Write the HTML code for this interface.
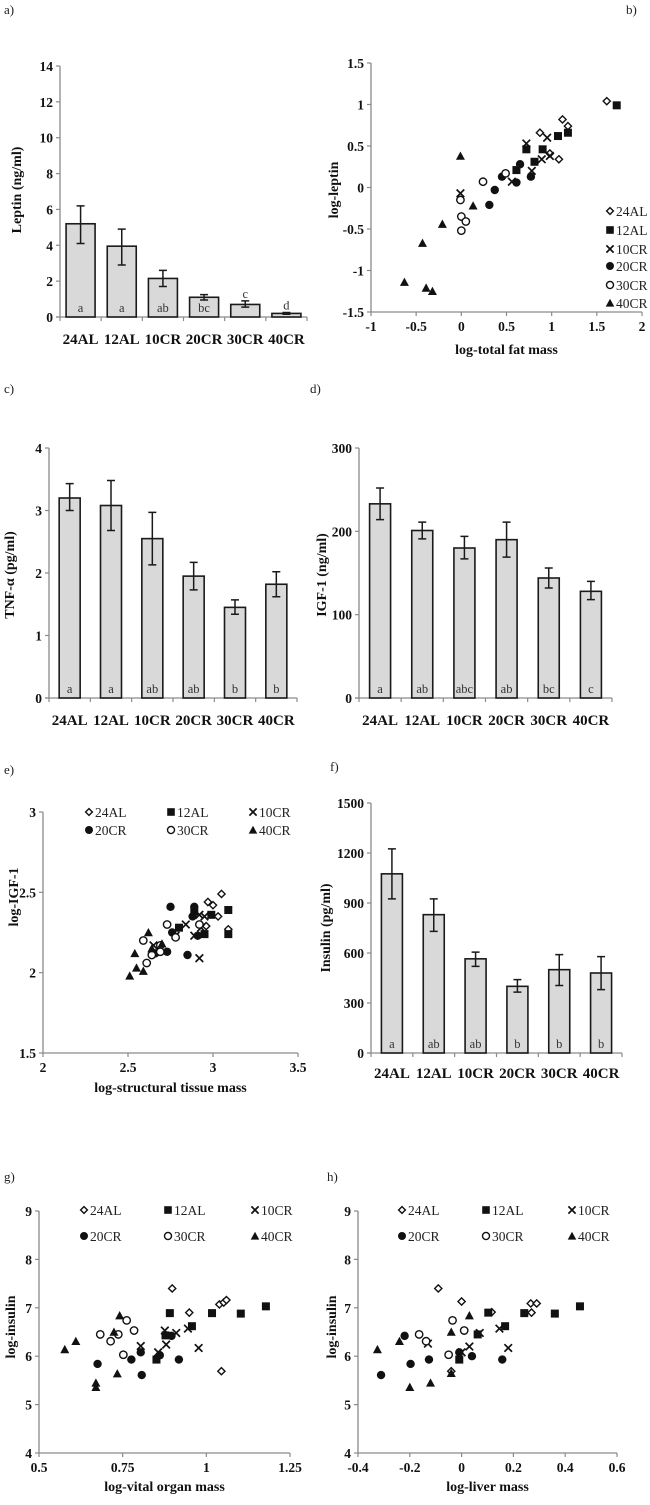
<!DOCTYPE html>
<html><head><meta charset="utf-8"><style>
html,body{margin:0;padding:0;background:#fff;}
svg{display:block;font-family:"Liberation Serif",serif;}
.tk{font-weight:bold;font-size:13.5px;fill:#111;}
.cat{font-weight:bold;font-size:15px;fill:#111;}
.ttl{font-weight:bold;font-size:14px;fill:#111;}
.lg{font-size:13.5px;fill:#222;}
.let{font-size:12.5px;fill:#333;}
.pl{font-size:13px;fill:#222;}
</style></head><body>
<svg id="fig" width="650" height="1505" viewBox="0 0 650 1505" xmlns="http://www.w3.org/2000/svg">
<text class="pl" x="4" y="14">a)</text>
<text class="pl" x="626" y="14">b)</text>
<text class="pl" x="4" y="393">c)</text>
<text class="pl" x="310" y="393">d)</text>
<text class="pl" x="4" y="774">e)</text>
<text class="pl" x="330" y="771">f)</text>
<text class="pl" x="4" y="1181">g)</text>
<text class="pl" x="327" y="1181">h)</text>
</svg>
<script>
const groups = ["24AL","12AL","10CR","20CR","30CR","40CR"];
// Panel a: leptin
const leptinMean = [5.2,3.95,2.15,1.1,0.7,0.2];
const leptinLo = [4.1,2.9,1.7,0.95,0.55,0.15];
const leptinHi = [6.2,4.9,2.6,1.25,0.9,0.25];
const leptinLetters = ["a","a","ab","bc","c","d"];
const leptinTicks = [0,2,4,6,8,10,12,14];
// Panel c: TNF-a
const tnfMean = [3.2,3.08,2.55,1.95,1.45,1.82];
const tnfLo = [3.0,2.68,2.13,1.73,1.34,1.62];
const tnfHi = [3.43,3.48,2.97,2.17,1.57,2.02];
const tnfLetters = ["a","a","ab","ab","b","b"];
const tnfTicks = [0,1,2,3,4];
// Panel d: IGF-1
const igfMean = [233,201,180,190,144,128];
const igfLo = [214,191,167,169,132,118];
const igfHi = [252,211,194,211,156,140];
const igfLetters = ["a","ab","abc","ab","bc","c"];
const igfTicks = [0,100,200,300];
// Panel f: insulin
const insMean = [1075,830,565,400,500,480];
const insLo = [925,730,520,365,405,380];
const insHi = [1225,925,605,440,590,578];
const insLetters = ["a","ab","ab","b","b","b"];
const insTicks = [0,300,600,900,1200,1500];

// Panel b: log-leptin vs log-total fat mass
const bX_24AL=[1.61,1.12,1.18,0.87,0.98,1.08], bY_24AL=[1.04,0.82,0.74,0.66,0.41,0.34];
const bX_12AL=[1.72,1.18,1.07,0.72,0.90,0.81,0.61], bY_12AL=[0.99,0.66,0.62,0.46,0.46,0.31,0.21];
const bX_10CR=[0.72,0.95,0.98,0.89,0.78,0.56,-0.01], bY_10CR=[0.53,0.60,0.38,0.34,0.20,0.07,-0.07];
const bX_20CR=[0.65,0.45,0.61,0.77,0.37,0.31], bY_20CR=[0.28,0.13,0.06,0.13,-0.03,-0.21];
const bX_30CR=[0.24,0.49,-0.01,0.0,0.05,0.0], bY_30CR=[0.07,0.17,-0.15,-0.35,-0.41,-0.52];
const bX_40CR=[-0.01,0.13,-0.21,-0.43,-0.63,-0.39,-0.32], bY_40CR=[0.38,-0.22,-0.44,-0.67,-1.14,-1.21,-1.25];
const bXTicks=[-1,-0.5,0,0.5,1,1.5,2], bYTicks=[-1.5,-1,-0.5,0,0.5,1,1.5];
// Panel e
const eX_24AL=[3.05,2.97,3.00,3.03,2.96,3.09], eY_24AL=[2.49,2.44,2.42,2.35,2.29,2.27];
const eX_12AL=[3.09,3.09,2.99,2.80,2.89,2.95], eY_12AL=[2.39,2.24,2.36,2.28,2.38,2.24];
const eX_10CR=[2.84,2.92,2.95,2.78,2.89,2.92,2.65,2.93], eY_10CR=[2.30,2.36,2.35,2.23,2.23,2.09,2.17,2.28];
const eX_20CR=[2.75,2.89,2.76,2.88,2.91,2.85,2.73,2.66], eY_20CR=[2.41,2.41,2.25,2.35,2.23,2.11,2.13,2.12];
const eX_30CR=[2.73,2.59,2.78,2.69,2.69,2.64,2.61,2.92], eY_30CR=[2.30,2.20,2.22,2.17,2.13,2.11,2.06,2.30];
const eX_40CR=[2.62,2.70,2.54,2.64,2.55,2.59,2.51], eY_40CR=[2.25,2.18,2.12,2.15,2.03,2.01,1.98];
const eXTicks=[2,2.5,3,3.5], eYTicks=[1.5,2,2.5,3];
// Panel g
const gX_24AL=[0.898,0.949,1.039,1.052,1.06,1.045], gY_24AL=[7.40,6.90,7.07,7.11,7.16,5.69];
const gX_12AL=[0.891,1.017,1.103,1.178,0.957,0.878,0.851], gY_12AL=[6.89,6.89,6.88,7.03,6.62,6.43,5.93];
const gX_10CR=[0.876,0.91,0.945,0.88,0.977,0.804,0.856], gY_10CR=[6.53,6.48,6.57,6.24,6.17,6.21,6.08];
const gX_20CR=[0.675,0.776,0.804,0.807,0.861,0.896,0.918], gY_20CR=[5.84,5.93,6.08,5.61,6.02,6.42,5.93];
const gX_30CR=[0.683,0.714,0.737,0.762,0.784,0.752], gY_30CR=[6.45,6.31,6.45,6.74,6.53,6.03];
const gX_40CR=[0.577,0.61,0.741,0.724,0.734,0.67,0.67], gY_40CR=[6.14,6.31,6.84,6.50,5.64,5.45,5.36];
const gXTicks=[0.5,0.75,1,1.25], gYTicks=[4,5,6,7,8,9];
// Panel h
const hX_24AL=[-0.09,0,0.116,0.27,0.267,0.29,-0.04], hY_24AL=[7.40,7.13,6.91,6.90,7.09,7.09,5.69];
const hX_12AL=[0.103,0.242,0.36,0.457,0.168,-0.009,0.062], hY_12AL=[6.90,6.89,6.88,7.03,6.62,5.93,6.45];
const hX_10CR=[-0.13,0.03,0.07,0.146,0.18,0], hY_10CR=[6.26,6.20,6.48,6.57,6.17,6.08];
const hX_20CR=[-0.311,-0.22,-0.197,-0.126,-0.009,0.04,0.157], hY_20CR=[5.61,6.42,5.84,5.93,6.08,6.00,5.93];
const hX_30CR=[-0.164,-0.137,-0.035,0.01,-0.05], hY_30CR=[6.45,6.31,6.74,6.53,6.03];
const hX_40CR=[-0.325,-0.24,-0.04,0.03,-0.2,-0.12,-0.04], hY_40CR=[6.14,6.31,6.50,6.84,5.36,5.45,5.65];
const hXTicks=[-0.4,-0.2,0,0.2,0.4,0.6], hYTicks=[4,5,6,7,8,9];

const NS="http://www.w3.org/2000/svg";
const svg=document.getElementById('fig');
function mk(tag,attrs,parent){const e=document.createElementNS(NS,tag);for(const k in attrs)e.setAttribute(k,attrs[k]);(parent||svg).appendChild(e);return e;}
function txt(str,attrs,parent){const e=mk('text',attrs,parent);e.textContent=str;return e;}
const AX="#8a8a8a";

function barChart(p){
  const g=mk('g',{});
  
  
  const ymax=p.ticks[p.ticks.length-1];
  const yS=v=>p.y0-(v/ymax)*(p.y0-p.y1);
  const cw=(p.x1-p.x0)/groups.length;
  const ya=mk('line',{x1:p.x0,y1:p.y0,x2:p.x0,y2:p.y1,stroke:AX,'stroke-width':1.3},g);
  
  
  const xa=mk('line',{x1:p.x0-4,y1:p.y0,x2:p.x1,y2:p.y0,stroke:AX,'stroke-width':1.3},g);
  
  
  p.ticks.forEach(t=>{
    mk('line',{x1:p.x0-4,y1:yS(t),x2:p.x0,y2:yS(t),stroke:AX,'stroke-width':1.2},g);
    const tl=txt(String(t),{x:p.x0-7,y:yS(t)+5,'text-anchor':'end',class:'tk'},g);
    
    
  });
  for(let i=0;i<=groups.length;i++){mk('line',{x1:p.x0+i*cw,y1:p.y0,x2:p.x0+i*cw,y2:p.y0+4,stroke:AX,'stroke-width':1.2},g);}
  groups.forEach((c,i)=>{
    const cx=p.x0+(i+0.5)*cw;
    const top=yS(p.mean[i]);
    const r=mk('rect',{x:cx-p.bw/2,y:top,width:p.bw,height:p.y0-top,fill:'#d9d9d9',stroke:'#1a1a1a','stroke-width':1.6},g);
    
    
    const eb=mk('path',{d:`M${cx},${yS(p.hi[i])}V${yS(p.lo[i])}M${cx-4},${yS(p.hi[i])}H${cx+4}M${cx-4},${yS(p.lo[i])}H${cx+4}`,stroke:'#1a1a1a','stroke-width':1.5,fill:'none'},g);
    
    
    const inside=(p.y0-yS(p.hi[i]))>18 && (p.y0-top)>14;
    const ly=inside? p.y0-5 : yS(p.hi[i])-3;
    const lt=txt(p.letters[i],{x:cx,y:ly,'text-anchor':'middle',class:'let'},g);
    
    
    const cl=txt(c,{x:cx,y:p.y0+p.catDy,'text-anchor':'middle',class:'cat'},g);
    
    
  });
  const yt=txt(p.ytitle,{x:0,y:0,'text-anchor':'middle',class:'ttl',transform:`translate(${p.ytx},${p.tcy}) rotate(-90)`},g);
  
  
}

const shapes=["24AL","12AL","10CR","20CR","30CR","40CR"];
function marker(kind,x,y,parent,s){
  s=s||1;let e;
  if(kind==="24AL"){e=mk('path',{d:`M${x},${y-3.6*s}L${x+3.6*s},${y}L${x},${y+3.6*s}L${x-3.6*s},${y}Z`,fill:'#fff',stroke:'#111','stroke-width':1.4},parent);}
  else if(kind==="12AL"){e=mk('rect',{x:x-4*s,y:y-4*s,width:8*s,height:8*s,fill:'#111'},parent);}
  else if(kind==="10CR"){e=mk('path',{d:`M${x-3.8*s},${y-3.8*s}L${x+3.8*s},${y+3.8*s}M${x+3.8*s},${y-3.8*s}L${x-3.8*s},${y+3.8*s}`,stroke:'#111','stroke-width':1.7,fill:'none'},parent);}
  else if(kind==="20CR"){e=mk('circle',{cx:x,cy:y,r:4.2*s,fill:'#111'},parent);}
  else if(kind==="30CR"){e=mk('circle',{cx:x,cy:y,r:3.7*s,fill:'#fff',stroke:'#111','stroke-width':1.4},parent);}
  else {e=mk('path',{d:`M${x},${y-4.5*s}L${x+4.5*s},${y+3.8*s}L${x-4.5*s},${y+3.8*s}Z`,fill:'#111'},parent);}
  return e;
}
function scatter(p){
  const g=mk('g',{});
  
  
  const xmin=p.xt[0],xmax=p.xt[p.xt.length-1],ymin=p.yt[0],ymax=p.yt[p.yt.length-1];
  const xS=v=>p.x0+(v-xmin)/(xmax-xmin)*(p.x1-p.x0);
  const yS=v=>p.y0-(v-ymin)/(ymax-ymin)*(p.y0-p.y1);
  const ya=mk('line',{x1:p.x0,y1:p.y0,x2:p.x0,y2:p.y1,stroke:AX,'stroke-width':1.3},g);
  
  
  const xa=mk('line',{x1:p.x0,y1:p.y0,x2:p.x1,y2:p.y0,stroke:AX,'stroke-width':1.3},g);
  
  
  p.yt.forEach(t=>{
    mk('line',{x1:p.x0-4,y1:yS(t),x2:p.x0,y2:yS(t),stroke:AX,'stroke-width':1.2},g);
    const tl=txt(String(t),{x:p.x0-7,y:yS(t)+5,'text-anchor':'end',class:'tk'},g);
    
    
  });
  p.xt.forEach(t=>{
    mk('line',{x1:xS(t),y1:p.y0,x2:xS(t),y2:p.y0+4,stroke:AX,'stroke-width':1.2},g);
    const tl=txt(String(t),{x:xS(t),y:p.y0+19,'text-anchor':'middle',class:'tk'},g);
    
    
  });
  p.series.forEach((s,k)=>{
    s[0].forEach((xv,i)=>{
      const m=marker(shapes[k],xS(xv),yS(s[1][i]),g);
      
      
    });
  });
  p.legend.forEach((pos,k)=>{
    const lg=mk('g',{},g);
    
    
    marker(shapes[k],pos[0],pos[1],lg,0.95);
    txt(shapes[k],{x:pos[0]+6,y:pos[1]+5,class:'lg'},lg);
  });
  const yt=txt(p.ytitle,{x:0,y:0,'text-anchor':'middle',class:'ttl',transform:`translate(${p.ytx},${p.tcy}) rotate(-90)`},g);
  
  
  const xt=txt(p.xtitle,{x:(p.x0+p.x1)/2,y:p.xty,'text-anchor':'middle',class:'ttl'},g);
  
  
}

barChart({name:'leptin-bar-chart',x0:60,x1:307,y0:317,y1:66,bw:29,mean:leptinMean,lo:leptinLo,hi:leptinHi,letters:leptinLetters,ticks:leptinTicks,catDy:27,ytitle:'Leptin (ng/ml)',ytx:21,tcy:190});
barChart({name:'tnf-bar-chart',x0:49,x1:297,y0:698,y1:448,bw:21,mean:tnfMean,lo:tnfLo,hi:tnfHi,letters:tnfLetters,ticks:tnfTicks,catDy:27,ytitle:'TNF-α (pg/ml)',ytx:14,tcy:575});
barChart({name:'igf1-bar-chart',x0:359,x1:612,y0:698,y1:448,bw:21,mean:igfMean,lo:igfLo,hi:igfHi,letters:igfLetters,ticks:igfTicks,catDy:27,ytitle:'IGF-1 (ng/ml)',ytx:326,tcy:575});
barChart({name:'insulin-bar-chart',x0:371,x1:622,y0:1053,y1:803,bw:21,mean:insMean,lo:insLo,hi:insHi,letters:insLetters,ticks:insTicks,catDy:25,ytitle:'Insulin (pg/ml)',ytx:330,tcy:928});

scatter({name:'leptin-fat-scatter',x0:371,x1:642,y0:312,y1:63,xt:bXTicks,yt:bYTicks,
  series:[[bX_24AL,bY_24AL],[bX_12AL,bY_12AL],[bX_10CR,bY_10CR],[bX_20CR,bY_20CR],[bX_30CR,bY_30CR],[bX_40CR,bY_40CR]],
  legend:[[610,211],[610,230],[610,249],[610,266],[610,285],[610,303]],
  ytitle:'log-leptin',ytx:338,tcy:190,xtitle:'log-total fat mass',xty:354});
scatter({name:'igf1-structural-scatter',x0:43,x1:298,y0:1053,y1:812,xt:eXTicks,yt:eYTicks,
  series:[[eX_24AL,eY_24AL],[eX_12AL,eY_12AL],[eX_10CR,eY_10CR],[eX_20CR,eY_20CR],[eX_30CR,eY_30CR],[eX_40CR,eY_40CR]],
  legend:[[89,812],[171,812],[253,812],[89,830],[171,830],[253,830]],
  ytitle:'log-IGF-1',ytx:18,tcy:897,xtitle:'log-structural tissue mass',xty:1092});
scatter({name:'insulin-vital-organ-scatter',x0:39,x1:290,y0:1453,y1:1211,xt:gXTicks,yt:gYTicks,
  series:[[gX_24AL,gY_24AL],[gX_12AL,gY_12AL],[gX_10CR,gY_10CR],[gX_20CR,gY_20CR],[gX_30CR,gY_30CR],[gX_40CR,gY_40CR]],
  legend:[[84,1210],[168,1210],[255,1210],[84,1236],[168,1236],[255,1236]],
  ytitle:'log-insulin',ytx:15,tcy:1327,xtitle:'log-vital organ mass',xty:1491});
scatter({name:'insulin-liver-scatter',x0:358,x1:617,y0:1453,y1:1211,xt:hXTicks,yt:hYTicks,
  series:[[hX_24AL,hY_24AL],[hX_12AL,hY_12AL],[hX_10CR,hY_10CR],[hX_20CR,hY_20CR],[hX_30CR,hY_30CR],[hX_40CR,hY_40CR]],
  legend:[[402,1210],[486,1210],[572,1210],[402,1236],[486,1236],[572,1236]],
  ytitle:'log-insulin',ytx:336,tcy:1327,xtitle:'log-liver mass',xty:1491});
</script>
</body></html>
